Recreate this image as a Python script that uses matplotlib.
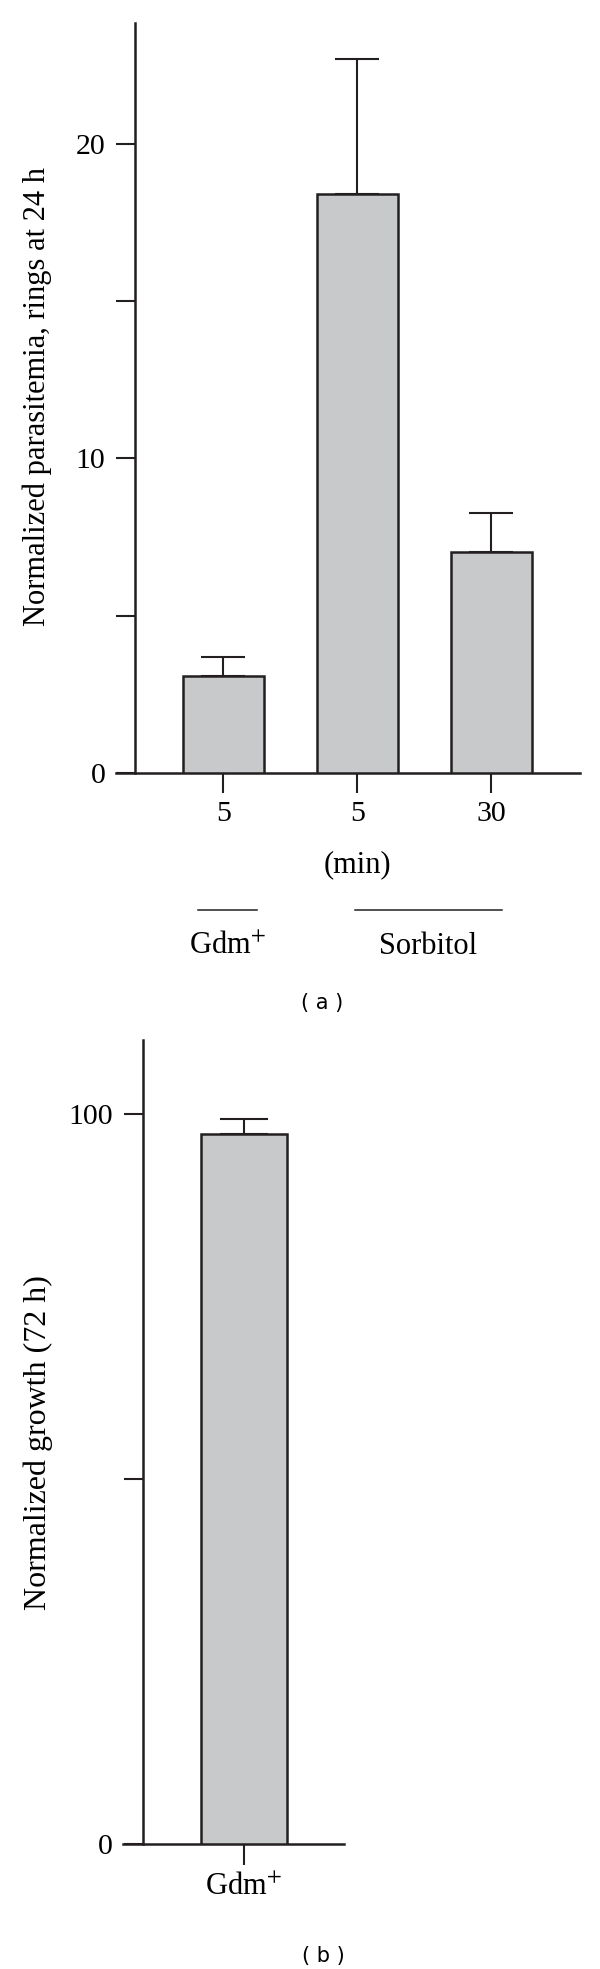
import matplotlib
matplotlib.use('Agg')
import matplotlib.pyplot as plt
import matplotlib.transforms as mtransforms

plt.rcParams['font.family'] = ['Liberation Serif', 'DejaVu Serif']
plt.rcParams['mathtext.fontset'] = 'stix'

# panel (a) data
a_labels = ['5', '5', '30']
a_values = [3.08, 18.4, 7.02]
a_errors = [0.61, 4.31, 1.25]
a_yticks = [0, 5, 10, 15, 20]
a_yticklabels = ['0', '', '10', '', '20']
groups = ['Gdm$^{+}$', 'Sorbitol']
group_spans = [(-0.19, 0.25), (0.98, 2.08)]
group_centers = [0.03, 1.53]

# panel (b) data
b_labels = ['Gdm$^{+}$']
b_values = [97.2]
b_errors = [2.1]
b_yticks = [0, 50, 100]
b_yticklabels = ['0', '', '100']

BAR = '#c8c9cb'
INK = '#231f20'
W, H = 600, 1969

fig = plt.figure(figsize=(W / 100, H / 100), dpi=100)


def style_axes(ax, spine_x):
    for s in ['top', 'right']:
        ax.spines[s].set_visible(False)
    ax.spines['left'].set_position(('data', spine_x))
    for s in ['left', 'bottom']:
        ax.spines[s].set_linewidth(1.8)
        ax.spines[s].set_color(INK)
    ax.tick_params(axis='y', direction='out', length=13.5, width=1.5,
                   color=INK, pad=8, labelsize=21.5)
    ax.tick_params(axis='x', direction='out', length=14.5, width=1.5,
                   color=INK, pad=6, labelsize=21.5)


# ---- panel (a)
ax1 = fig.add_axes([116 / W, 1 - 773 / H, 464 / W, 750 / H])
xa = list(range(len(a_values)))
ax1.bar(xa, a_values, width=0.6, color=BAR, edgecolor=INK, linewidth=1.8, zorder=3)
ax1.errorbar(xa, a_values, yerr=[[0] * len(a_errors), a_errors], fmt='none',
             ecolor=INK, elinewidth=1.5, capsize=16, capthick=1.5, zorder=2)
ax1.set_xlim(-0.80, 2.66)
ax1.set_ylim(0, 23.84)
ax1.set_xticks(xa)
ax1.set_xticklabels(a_labels)
ax1.set_yticks(a_yticks)
ax1.set_yticklabels(a_yticklabels)
style_axes(ax1, -0.657)

tr = mtransforms.blended_transform_factory(ax1.transData, ax1.transAxes)
ax1.text(1, -0.1227, '(min)', transform=tr, ha='center', va='center', fontsize=22)
for name, (x0, x1), xc in zip(groups, group_spans, group_centers):
    ax1.plot([x0, x1], [-0.1827, -0.1827], transform=tr, color=INK,
             lw=1.1, clip_on=False)
    ax1.text(xc, -0.232, name, transform=tr, ha='center', va='center', fontsize=22)

fig.text(37 / W, 1 - 396 / H, 'Normalized parasitemia, rings at 24 h',
         rotation=90, ha='center', va='center', fontsize=22)
fig.text(322 / W, 1 - 1003 / H, '( a )', ha='center', va='center',
         fontsize=15, family='DejaVu Sans')

# ---- panel (b)
ax2 = fig.add_axes([123 / W, 1 - 1844 / H, 221 / W, 804 / H])
xb = list(range(len(b_values)))
ax2.bar(xb, b_values, width=0.6, color=BAR, edgecolor=INK, linewidth=1.8, zorder=3)
ax2.errorbar(xb, b_values, yerr=[[0] * len(b_errors), b_errors], fmt='none',
             ecolor=INK, elinewidth=1.5, capsize=17, capthick=1.5, zorder=2)
ax2.set_xlim(-0.844, 0.698)
ax2.set_ylim(0, 110.1)
ax2.set_xticks(xb)
ax2.set_xticklabels(b_labels)
ax2.set_yticks(b_yticks)
ax2.set_yticklabels(b_yticklabels)
style_axes(ax2, -0.707)
ax2.tick_params(axis='x', length=15, labelsize=22)

fig.text(38 / W, 1 - 1443 / H, 'Normalized growth (72 h)',
         rotation=90, ha='center', va='center', fontsize=23)
fig.text(323 / W, 1 - 1956 / H, '( b )', ha='center', va='center',
         fontsize=15, family='DejaVu Sans')

fig.savefig('out.png', dpi=100)
